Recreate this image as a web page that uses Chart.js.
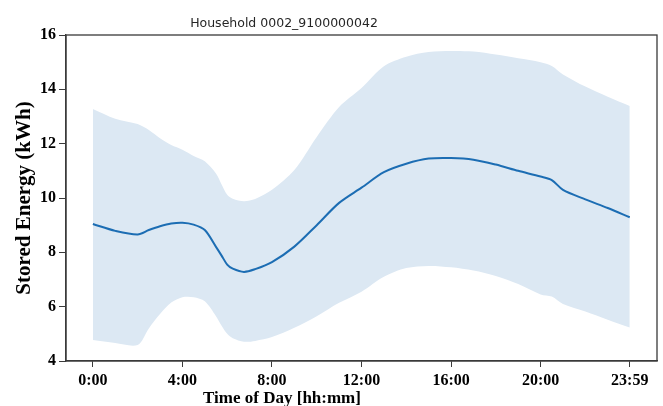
<!DOCTYPE html>
<html><head><meta charset="utf-8">
<script src="https://cdn.jsdelivr.net/npm/chart.js@4"></script>
<style>html,body{margin:0;padding:0;background:#fff;}</style>
</head><body>
<canvas id="c" width="663" height="406"></canvas>
<script>
const chartTitle = 'Household 0002_9100000042';
const xAxisTitle = 'Time of Day [hh:mm]';
const yAxisTitle = 'Stored Energy (kWh)';

const hours = [0, 1, 2, 2.5, 3, 3.5, 4, 4.5, 5, 5.5, 5.75, 6, 6.25, 6.75, 7.25, 8, 9, 10, 11, 12, 13, 14, 15, 16, 17, 18, 19, 20, 20.5, 21, 22, 23, 23.983];
const meanEnergy = [9.04, 8.79, 8.66, 8.82, 8.96, 9.06, 9.09, 9.02, 8.82, 8.2, 7.88, 7.55, 7.40, 7.28, 7.38, 7.64, 8.21, 9.0, 9.82, 10.38, 10.95, 11.26, 11.45, 11.47, 11.41, 11.23, 11.0, 10.79, 10.66, 10.30, 9.95, 9.63, 9.29];
const upperEnergy = [13.28, 12.92, 12.72, 12.5, 12.2, 11.95, 11.78, 11.55, 11.35, 10.9, 10.5, 10.12, 9.97, 9.88, 9.96, 10.3, 11.03, 12.25, 13.35, 14.05, 14.85, 15.2, 15.37, 15.41, 15.39, 15.28, 15.14, 15.0, 14.86, 14.55, 14.1, 13.73, 13.39];
const lowerEnergy = [4.77, 4.66, 4.59, 5.2, 5.73, 6.15, 6.35, 6.35, 6.2, 5.65, 5.3, 5.0, 4.84, 4.71, 4.74, 4.88, 5.22, 5.65, 6.14, 6.55, 7.1, 7.42, 7.5, 7.45, 7.33, 7.13, 6.83, 6.45, 6.37, 6.1, 5.82, 5.52, 5.23];

const xTickValues = [0, 4, 8, 12, 16, 20, 23.983];
const xTickLabels = ['0:00', '4:00', '8:00', '12:00', '16:00', '20:00', '23:59'];
const yTickValues = [4, 6, 8, 10, 12, 14, 16];

const pts = arr => hours.map((h, i) => ({x: h, y: arr[i]}));
const tickFont = {family: 'Liberation Serif', size: 16, weight: 'bold'};

const framePlugin = {
  id: 'frameAndTexts',
  afterDraw(chart) {
    const {ctx, chartArea: a} = chart;
    ctx.save();
    ctx.strokeStyle = '#3a3a3a';
    ctx.lineWidth = 1.3;
    ctx.strokeRect(a.left, a.top, a.right - a.left, a.bottom - a.top);
    ctx.fillStyle = '#262626';
    ctx.textAlign = 'center';
    ctx.textBaseline = 'alphabetic';
    ctx.font = '12.5px "DejaVu Sans"';
    ctx.fillText(chartTitle, 284, 27);
    ctx.fillStyle = '#000';
    ctx.font = 'bold 17px "Liberation Serif"';
    ctx.fillText(xAxisTitle, 282, 403);
    ctx.restore();
  }
};

new Chart(document.getElementById('c'), {
  type: 'line',
  data: {
    datasets: [
      {label: 'mean', data: pts(meanEnergy), borderWidth: 2, pointRadius: 0, borderColor: '#1c6db3', fill: false, tension: 0.3, order: -1},
      {label: 'upper', data: pts(upperEnergy), borderWidth: 0, pointRadius: 0, borderColor: 'rgba(0,0,0,0)', backgroundColor: '#dce8f3', fill: '+1', tension: 0.3, order: 1},
      {label: 'lower', data: pts(lowerEnergy), borderWidth: 0, pointRadius: 0, borderColor: 'rgba(0,0,0,0)', backgroundColor: '#dce8f3', fill: false, tension: 0.3, order: 1}
    ]
  },
  options: {
    responsive: false,
    animation: false,
    devicePixelRatio: 1,
    layout: {padding: {top: 35, right: 6, left: 0, bottom: 0}},
    plugins: {legend: {display: false}, title: {display: false}, tooltip: {enabled: false},
      filler: {drawTime: 'beforeDatasetsDraw'}},
    scales: {
      x: {
        type: 'linear', min: -1.2, max: 25.2,
        afterBuildTicks: s => { s.ticks = xTickValues.map(v => ({value: v})); },
        afterFit: s => { s.height = 45; },
        ticks: {autoSkip: false, maxRotation: 0, padding: 4, color: '#000', font: tickFont,
          callback: v => { const i = xTickValues.indexOf(v); return i >= 0 ? xTickLabels[i] : ''; }},
        grid: {display: true, drawOnChartArea: false, drawTicks: true, tickLength: 6, tickColor: '#3a3a3a'},
        border: {display: true, color: '#3a3a3a', width: 1.3}
      },
      y: {
        min: 4, max: 16,
        afterBuildTicks: s => { s.ticks = yTickValues.map(v => ({value: v})); },
        afterFit: s => { s.width = 66; },
        ticks: {padding: 3, color: '#000', font: tickFont},
        grid: {display: true, drawOnChartArea: false, drawTicks: true, tickLength: 7, tickColor: '#3a3a3a'},
        border: {display: true, color: '#3a3a3a', width: 1.3},
        title: {display: true, text: yAxisTitle, color: '#000', padding: {top: 12, bottom: 0},
          font: {family: 'Liberation Serif', size: 21, weight: 'bold'}}
      }
    }
  },
  plugins: [framePlugin]
});
</script>
</body></html>
